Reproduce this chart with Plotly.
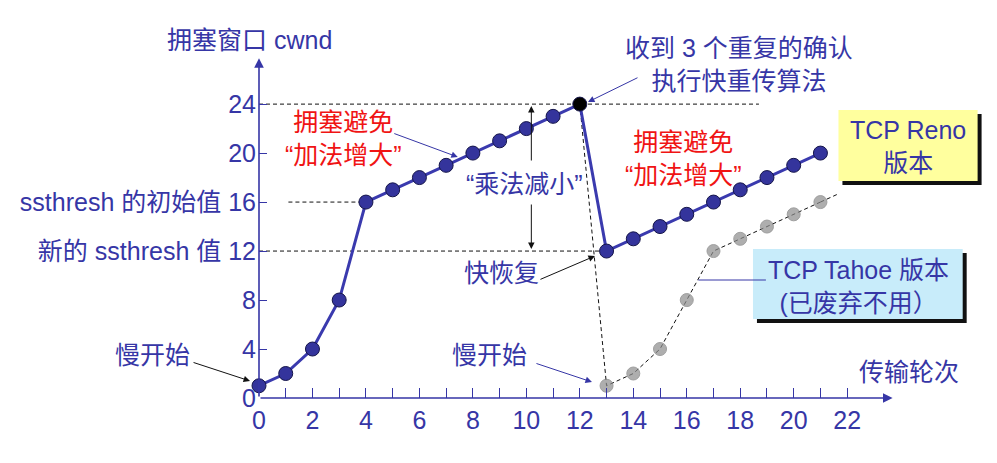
import plotly.graph_objects as go

# ---- data ----
reno_x = list(range(0, 22))
reno_y = [1, 2, 4, 8, 16, 17, 18, 19, 20, 21, 22, 23, 24, 12, 13, 14, 15, 16, 17, 18, 19, 20]
tahoe_x = [12, 13, 14, 15, 16, 17, 18, 19, 20, 21]
tahoe_y = [24, 1, 2, 4, 8, 12, 13, 14, 15, 16]
ytick_vals = [0, 4, 8, 12, 16, 20, 24]
ytick_text = ["0", "4", "8", "新的 ssthresh 值 12", "ssthresh 的初始值 16", "20", "24"]
xtick_vals = list(range(0, 23))
xtick_text = [str(v) if v % 2 == 0 else "" for v in xtick_vals]
cwnd_threshold_old = 16
cwnd_threshold_new = 12
cwnd_peak = 24
peak_round = 12

# ---- style ----
FONT = "'Liberation Sans', Arial, 'Noto Sans CJK SC', sans-serif"
BLUE = "#3636A6"
LINE = "#3A3AAE"
RED = "#F01414"
FS = 25

OFF = 8  # page body margin
W, H = 997 - OFF, 463 - OFF
ML, MT = 255 - OFF, 49 - OFF
MB = H - (398 - OFF)
MR = W - (914 - OFF)
PW, PH = W - ML - MR, H - MT - MB


def px(xp):
    return (xp - OFF - ML) / PW


def py(yp):
    return (H - MB - (yp - OFF)) / PH


fig = go.Figure()

# Tahoe (dashed, gray markers)
fig.add_trace(go.Scatter(
    x=tahoe_x, y=tahoe_y, mode="lines+markers",
    line=dict(color="#111111", width=1, dash="4px,3px"),
    marker=dict(size=[0] + [13] * (len(tahoe_x) - 1), color="#8C8C8C",
                line=dict(color="#777777", width=1)),
    cliponaxis=False, showlegend=False, hoverinfo="skip"))

# Reno
mcolors = ["#000000" if x == peak_round else "#34349C" for x in reno_x]
fig.add_trace(go.Scatter(
    x=reno_x, y=reno_y, mode="lines+markers",
    line=dict(color=LINE, width=3),
    marker=dict(size=14, color=mcolors, line=dict(color="#15154A", width=1)),
    cliponaxis=False, showlegend=False, hoverinfo="skip"))

shapes = []
dash_style = dict(color="#111111", width=1, dash="4px,3px")
# reference dashed lines (data coords)
shapes.append(dict(type="line", xref="x", yref="y", x0=0, x1=18.7,
                   y0=cwnd_peak, y1=cwnd_peak, line=dash_style, layer="below"))
shapes.append(dict(type="line", xref="x", yref="y", x0=1.1, x1=4,
                   y0=cwnd_threshold_old, y1=cwnd_threshold_old, line=dash_style, layer="below"))
shapes.append(dict(type="line", xref="x", yref="y", x0=0, x1=13,
                   y0=cwnd_threshold_new, y1=cwnd_threshold_new, line=dash_style, layer="below"))
# dashed continuation past the last Tahoe round
shapes.append(dict(type="line", xref="x", yref="y", x0=tahoe_x[-1], x1=tahoe_x[-1] + 0.7,
                   y0=tahoe_y[-1], y1=tahoe_y[-1] + 0.7, line=dash_style, layer="below"))


def box(x0, y0, x1, y1, fill):
    shapes.append(dict(type="rect", xref="paper", yref="paper",
                       x0=px(x0 + 4), x1=px(x1 + 4), y0=py(y0 + 4), y1=py(y1 + 4),
                       fillcolor="#111111", line=dict(width=0), layer="above"))
    shapes.append(dict(type="rect", xref="paper", yref="paper",
                       x0=px(x0), x1=px(x1), y0=py(y0), y1=py(y1),
                       fillcolor=fill, line=dict(width=0), layer="above"))


box(838, 110, 978, 181, "#FFFF9E")
box(752, 249, 963, 319, "#C8ECFA")
# connector from Tahoe box to curve
shapes.append(dict(type="line", xref="paper", yref="paper",
                   x0=px(697), x1=px(765), y0=py(280), y1=py(280),
                   line=dict(color=BLUE, width=1), layer="above"))

annotations = []


def text(xp, yp, s, color=BLUE, size=FS):
    annotations.append(dict(x=px(xp), y=py(yp), xref="paper", yref="paper",
                            text=s, showarrow=False, xanchor="center", yanchor="middle",
                            font=dict(family=FONT, size=size, color=color)))


def arrow(tail, head, color="#111111", width=1, size=1.3):
    annotations.append(dict(x=px(head[0]), y=py(head[1]), xref="paper", yref="paper",
                            ax=tail[0] - head[0], ay=tail[1] - head[1],
                            text="", showarrow=True, arrowhead=2, arrowsize=size,
                            arrowwidth=width, arrowcolor=color, standoff=0))


# axes with arrowheads (data coords)
annotations.append(dict(x=0, y=27.75, ax=0, ay=0, xref="x", yref="y", axref="x", ayref="y",
                        text="", showarrow=True, arrowhead=2, arrowsize=1.2,
                        arrowwidth=1.6, arrowcolor=BLUE, standoff=0))
annotations.append(dict(x=23.7, y=0, ax=0, ay=0, xref="x", yref="y", axref="x", ayref="y",
                        text="", showarrow=True, arrowhead=2, arrowsize=1.2,
                        arrowwidth=1.6, arrowcolor=BLUE, standoff=0))

text(245, 40, "拥塞窗口 cwnd")
text(909, 372, "传输轮次")
text(148, 355, "慢开始")
text(487, 355, "慢开始")
text(499, 273, "快恢复")
text(522, 184, "“乘法减小”")
text(340, 138, "拥塞避免<br>“加法增大”", color=RED)
text(682, 158, "拥塞避免<br>“加法增大”", color=RED)
text(738, 64, "收到 3 个重复的确认<br>执行快重传算法")
text(908, 146, "TCP Reno<br>版本")
text(858, 286, "TCP Tahoe 版本<br>(已废弃不用）")

arrow((188, 362), (246, 381))
arrow((533, 363), (590, 382), color=BLUE)
arrow((537, 280), (593, 256))
arrow((390, 133), (455, 157), color=BLUE)
arrow((637, 77), (586, 102), color=BLUE)
arrow((529, 162), (529, 106))
arrow((529, 203), (529, 249))

fig.update_layout(
    width=W, height=H,
    margin=dict(l=ML, r=MR, t=MT, b=MB, pad=0),
    paper_bgcolor="white", plot_bgcolor="white",
    font=dict(family=FONT, size=FS, color=BLUE),
    xaxis=dict(range=[0, 24.5], tickvals=xtick_vals, ticktext=xtick_text,
               ticks="inside", ticklen=10, tickwidth=1.2, tickcolor=BLUE,
               showgrid=False, zeroline=False, showline=False,
               tickfont=dict(family=FONT, size=FS, color=BLUE), ticklabelstandoff=5),
    yaxis=dict(range=[0, 28.5], tickvals=ytick_vals, ticktext=ytick_text,
               ticks="inside", ticklen=8, tickwidth=1.2, tickcolor=BLUE,
               showgrid=False, zeroline=False, showline=False,
               tickfont=dict(family=FONT, size=FS, color=BLUE), ticklabelstandoff=2),
    shapes=shapes, annotations=annotations,
)

fig.write_html("out.html")
